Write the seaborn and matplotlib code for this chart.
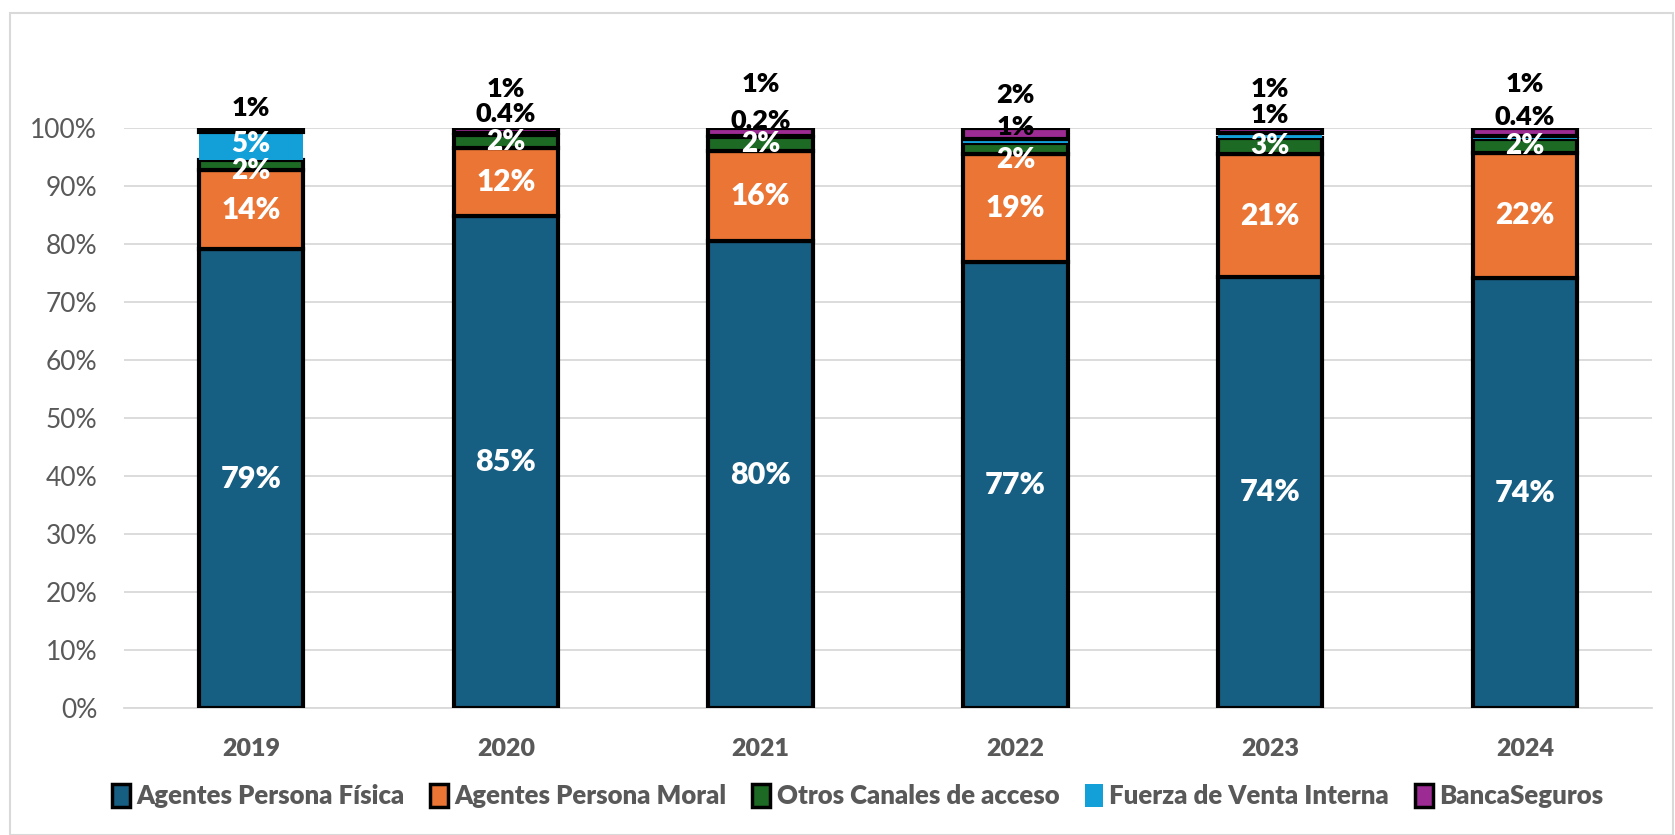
import matplotlib
matplotlib.use("Agg")
import matplotlib.pyplot as plt
import matplotlib.patches as mpatches
from matplotlib.ticker import PercentFormatter
import seaborn as sns
import pandas as pd
import numpy as np

# Share of premiums by distribution channel (%)
years = ["2019", "2020", "2021", "2022", "2023", "2024"]
agentes_fisica = [79.0, 84.8, 80.4, 76.9, 74.3, 74.1]
agentes_moral = [13.7, 11.7, 15.6, 18.6, 21.1, 21.6]
otros_canales = [1.8, 2.2, 2.4, 1.9, 2.9, 2.4]
fuerza_venta = [4.7, 0.4, 0.2, 0.6, 0.8, 0.4]
banca_seguros = [0.8, 0.9, 1.4, 2.0, 0.9, 1.4]

series_names = ["Agentes Persona Física", "Agentes Persona Moral",
                "Otros Canales de acceso", "Fuerza de Venta Interna", "BancaSeguros"]
series_values = [agentes_fisica, agentes_moral, otros_canales, fuerza_venta, banca_seguros]
series_colors = ["#175F82", "#EB7534", "#1D6A24", "#13A0D8", "#9C2B93"]
series_edges = ["black", "black", "black", "none", "black"]

# label layout (y in %) for the small segments stacked above the bars
fvi_label_y = [None, 102.3, 101.2, 100.1, 102.1, 101.8]
banca_label_y = [103.4, 106.7, 107.6, 105.6, 106.7, 107.6]
otros_label_shift = [-1.0, 0.0, 0.0, -2.0, 0.0, 0.0]

sns.set_theme(style="white")
plt.rcParams["font.family"] = ["Lato", "DejaVu Sans"]

HEAVY = "heavy"

fig = plt.figure(figsize=(16.75, 8.35), dpi=100)
ax = fig.add_axes([0.0738, 0.1525, 0.9127, 0.6946])

bottoms = np.zeros(len(years))
for name, vals, col, ec in zip(series_names, series_values, series_colors, series_edges):
    df = pd.DataFrame({"year": years, "value": vals})
    sns.barplot(data=df, x="year", y="value", color=col, width=0.41,
                bottom=bottoms.copy(), edgecolor=ec,
                linewidth=3 if ec != "none" else 0, ax=ax, saturation=1,
                label=name, zorder=3)
    bottoms += np.array(vals)


def fmt(v):
    return f"{v:.1f}%" if v < 0.5 else f"{v:.0f}%"


# value labels
for i in range(len(years)):
    b0 = 0.0
    v = agentes_fisica[i]
    ax.text(i, b0 + v / 2, fmt(v), ha="center", va="center", color="white",
            fontsize=22, fontweight=HEAVY, zorder=5)
    b0 += v
    v = agentes_moral[i]
    ax.text(i, b0 + v / 2, fmt(v), ha="center", va="center", color="white",
            fontsize=21.5, fontweight=HEAVY, zorder=5)
    b0 += v
    v = otros_canales[i]
    ax.text(i, b0 + v / 2 + otros_label_shift[i], fmt(v), ha="center", va="center",
            color="white", fontsize=20, fontweight=HEAVY, zorder=5)
    b0 += v
    v = fuerza_venta[i]
    if fvi_label_y[i] is None:
        ax.text(i, b0 + v / 2 + 0.3, fmt(v), ha="center", va="center", color="white",
                fontsize=20, fontweight=HEAVY, zorder=5)
    else:
        ax.text(i, fvi_label_y[i], fmt(v), ha="center", va="center", color="black",
                fontsize=19.5, fontweight=HEAVY, zorder=5)
    b0 += v
    v = banca_seguros[i]
    ax.text(i, banca_label_y[i], fmt(v), ha="center", va="center", color="black",
            fontsize=19.5, fontweight=HEAVY, zorder=5)

ax.set_ylim(0, 100)
ax.set_xlim(-0.5, len(years) - 0.5)
ax.set_yticks(np.arange(0, 101, 10))
ax.yaxis.set_major_formatter(PercentFormatter(100, decimals=0))
ax.grid(axis="y", color="#D9D9D9", linewidth=1.3, zorder=0)
ax.set_axisbelow(True)
for s in ["top", "right", "left"]:
    ax.spines[s].set_visible(False)
ax.spines["bottom"].set_color("#D9D9D9")
ax.spines["bottom"].set_linewidth(1.3)
ax.set_xlabel("")
ax.set_ylabel("")
ax.tick_params(axis="y", labelsize=19, labelcolor="#595959", length=0, pad=19)
ax.tick_params(axis="x", labelsize=18, labelcolor="#595959", length=0, pad=22)
for t in ax.get_xticklabels():
    t.set_fontweight(HEAVY)

# legend
if ax.legend_:
    ax.legend_.remove()
handles = [mpatches.Patch(facecolor=c, edgecolor=("black" if e != "none" else c),
                          linewidth=2.5 if e != "none" else 0, label=n)
           for n, c, e in zip(series_names, series_colors, series_edges)]
leg = fig.legend(handles=handles, loc="center", bbox_to_anchor=(0.512, 0.047),
                 ncol=5, frameon=False, handlelength=0.7, handleheight=1.0,
                 handletextpad=0.25, columnspacing=1.0,
                 prop={"size": 18.5, "weight": HEAVY})
for t in leg.get_texts():
    t.set_color("#595959")

# chart frame
fig.patches.append(mpatches.Rectangle((0.006, 0.0), 0.993, 0.985, transform=fig.transFigure,
                                      fill=False, edgecolor="#D9D9D9", linewidth=1.5))

fig.savefig("out.png", dpi=100, facecolor="white")
